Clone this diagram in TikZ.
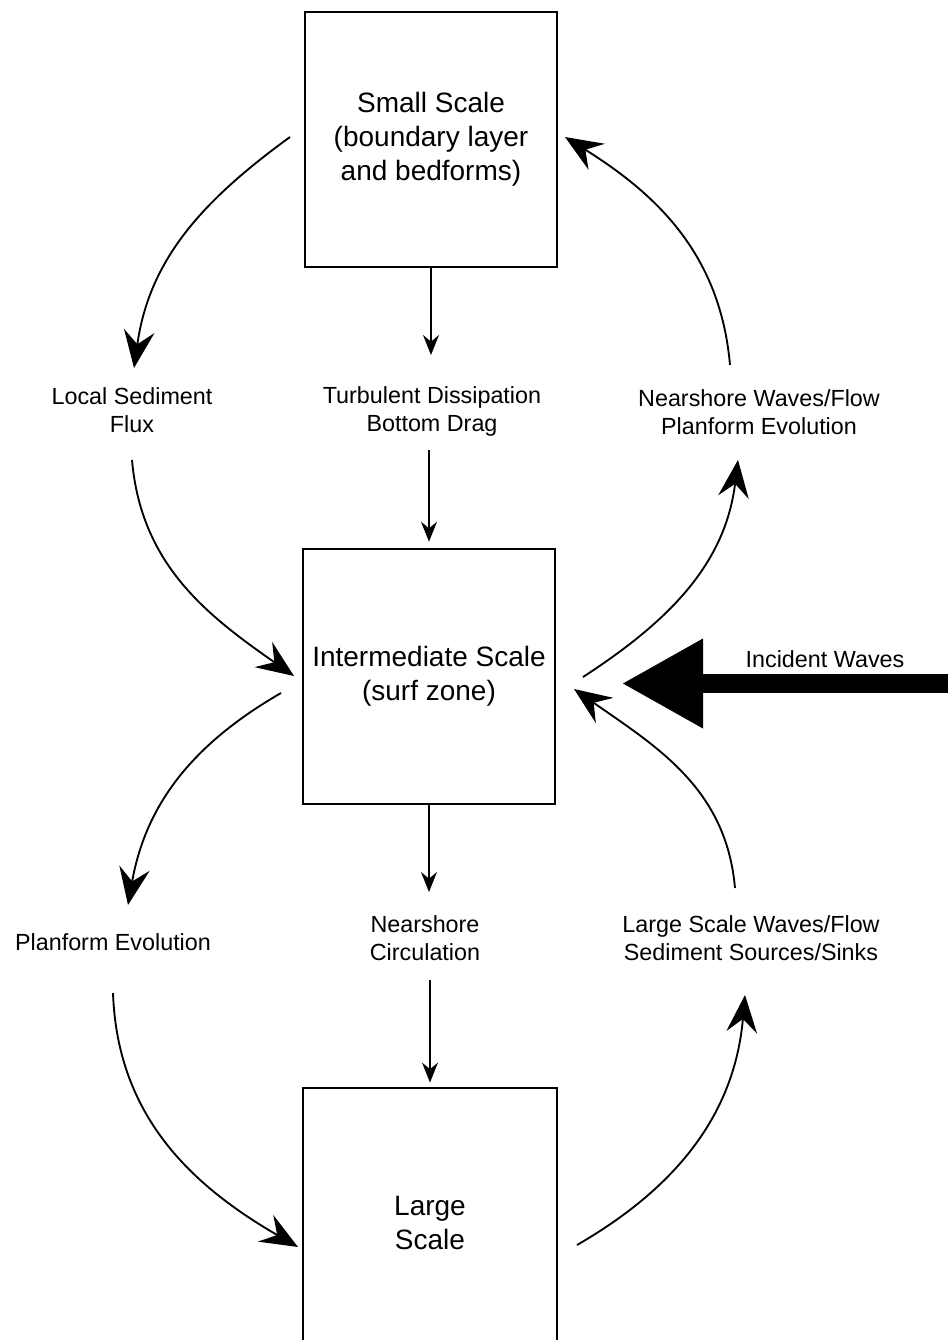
\documentclass[tikz,border=0pt]{standalone}
\usepackage{fontspec}
\setmainfont{Liberation Sans}
\usetikzlibrary{arrows.meta}
\begin{document}
\begin{tikzpicture}[x=0.75pt,y=-0.75pt,
  box/.style={draw, line width=1.2pt, minimum width=189pt, minimum height=191pt, align=center, font=\fontsize{21}{25.5}\selectfont, inner sep=0pt},
  bigtxt/.style={align=center, font=\fontsize{21}{25}\selectfont, inner sep=0pt},
  lbl/.style={align=center, font=\fontsize{17.5}{21}\selectfont, inner sep=0pt},
  vflow/.style={line width=1.2pt, -{Stealth[length=15pt,width=12pt,inset=5pt]}},
  cflow/.style={line width=1.4pt, -{Stealth[length=28pt,width=23pt,inset=10pt]}},
  bigflow/.style={line width=14.25pt, -{Triangle[length=60pt,width=67.5pt,line width=0pt]}},
  ]
\useasboundingbox (0,0) rectangle (947,1340);

% boxes
\node[box] (S) at (431,139.5) {Small Scale\\(boundary layer\\and bedforms)};
\node[box] (I) at (429,676.5) {Intermediate Scale\\(surf zone)};
\node[box, draw=none] (L) at (430,1216) {};
\draw[line width=1.2pt] (L.south west) -- (L.north west) -- (L.north east) -- (L.south east);
\node[bigtxt] (Ltxt) at (430,1223) {Large\\Scale};

% labels
\node[lbl] (LSF) at (132,410) {Local Sediment\\Flux};
\node[lbl] (TD) at (432,411) {Turbulent Dissipation\\Bottom Drag};
\node[lbl] (NW) at (759,412) {Nearshore Waves/Flow\\Planform Evolution};
\node[lbl] (PE) at (113,942) {Planform Evolution};
\node[lbl] (NC) at (425,938) {Nearshore\\Circulation};
\node[lbl] (LSW) at (751,938) {Large Scale Waves/Flow\\Sediment Sources/Sinks};
\node[lbl] (IW) at (825,659) {Incident Waves};

% coordinates
\coordinate (t1) at (430,355);
\coordinate (t2) at (430,450);
\coordinate (t3) at (430,892);
\coordinate (t4) at (430,980);
\coordinate (c1a) at (290,137); \coordinate (c1b) at (134,368);
\coordinate (c2a) at (132,460); \coordinate (c2b) at (294,676);
\coordinate (c3a) at (583,677); \coordinate (c3b) at (738,460);
\coordinate (c4a) at (730,365); \coordinate (c4b) at (565,137);
\coordinate (c5a) at (281,693); \coordinate (c5b) at (128,905);
\coordinate (c6a) at (113,993); \coordinate (c6b) at (298,1247);
\coordinate (c7a) at (577,1245); \coordinate (c7b) at (745,995);
\coordinate (c8a) at (735,888); \coordinate (c8b) at (574,689);
\coordinate (iw0) at (950,683.5);
\coordinate (iw1) at (623,683.5);

% vertical arrows
\draw[vflow] (S.south |- S.south) -- (S.south |- t1);
\draw[vflow, shorten >=5pt] (I.north |- t2) -- (I.north);
\draw[vflow] (I.south) -- (I.south |- t3);
\draw[vflow, shorten >=4pt] (L.north |- t4) -- (L.north);

% curved arrows
\draw[cflow] (c1a) to[out=216,in=82] (c1b);
\draw[cflow] (c2a) to[out=-85,in=145] (c2b);
\draw[cflow] (c3a) to[out=33,in=-97] (c3b);
\draw[cflow] (c4a) to[out=95,in=-32] (c4b);
\draw[cflow] (c5a) to[out=210,in=80] (c5b);
\draw[cflow] (c6a) to[out=-88,in=150] (c6b);
\draw[cflow] (c7a) to[out=30,in=-95] (c7b);
\draw[cflow] (c8a) to[out=95,in=-35] (c8b);

% incident waves
\draw[bigflow] (iw0) -- (iw1);
\end{tikzpicture}
\end{document}
